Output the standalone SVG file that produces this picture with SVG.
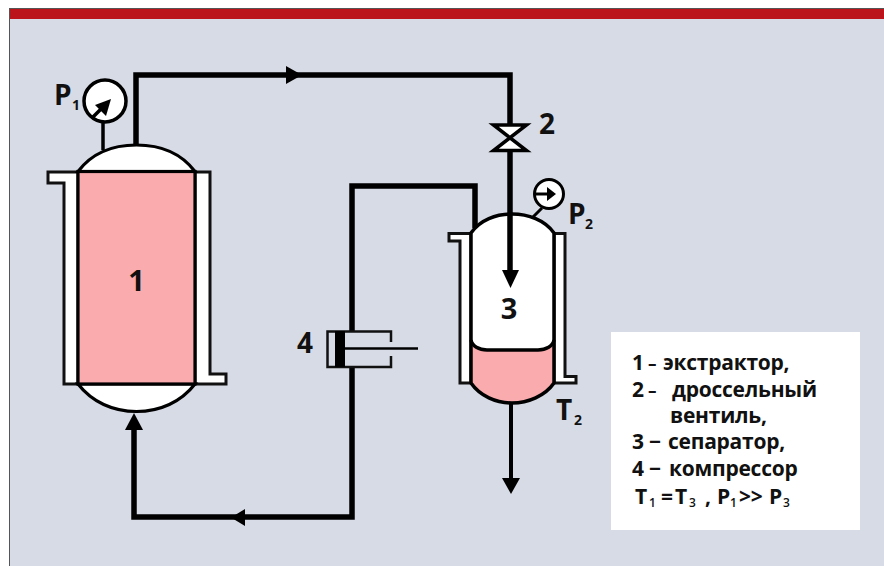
<svg xmlns="http://www.w3.org/2000/svg" width="884" height="566" viewBox="0 0 884 566">
<style>
text{font-family:"Open Sans","Noto Sans","Liberation Sans",sans-serif;font-weight:700;fill:#111}
.big{font-size:29px}
.lab{font-size:28px}
.sub{font-size:14px}
.leg{font-size:21px;letter-spacing:-.25px}
.legs{font-size:12px;font-weight:600}
.d{font-size:17px}
.v{stroke:#000;stroke-width:3.2;stroke-linejoin:miter}
.j{fill:#fff;stroke:#111;stroke-width:3}
.p{fill:none;stroke:#000;stroke-width:5.5;stroke-linejoin:miter}
.t{fill:none;stroke:#000;stroke-width:3.5}
.a{fill:#000}
</style>
<rect width="884" height="566" fill="#fff"/>
<g id="panel">
<rect x="9.500" y="8.500" width="875" height="558" fill="#d7dbe5" stroke="#555" stroke-width="1"/>
<rect x="10" y="9" width="874" height="10" fill="#bb141a"/>
</g>
<g id="connectors">
<path class="p" d="M136 147V75H510V125"/>
<path class="p" d="M510 150V272"/>
<path class="p" d="M475 228V186H352V331"/>
<path class="p" d="M352 367V517H134V428"/>
<path class="t" style="stroke-width:4" d="M511 403V480"/>
<path class="a" d="M286 66L302 75L286 84Z"/>
<path class="a" d="M502 478H520L511 494Z"/>
<path class="a" d="M245 509V526L231 517.500Z"/>
<path class="a" d="M125 430H143L134 413Z"/>
</g>
<g id="node-1">
<path class="j" d="M48 172H78V384H64V183H48Z"/>
<path class="j" d="M195 172H210V374H226V384H195Z"/>
<path class="v" fill="#fff" d="M78 171.500C92 153 113 145 136.500 145C160 145 181 153 195 171.500Z"/>
<path class="v" fill="#fff" d="M78 384C92 402 113 411.500 136.500 411.500C160 411.500 181 402 195 384Z"/>
<rect class="v" x="78" y="171.500" width="117" height="212.500" fill="#f9abae"/>
<text class="big" x="136.500" y="291" text-anchor="middle">1</text>
</g>
<g id="gauge-p1">
<path class="t" d="M103 122V150"/>
<circle cx="105" cy="101" r="21" fill="#fff" stroke="#000" stroke-width="3.500"/>
<path class="t" d="M93 117L104 106"/>
<path class="a" d="M111 99L106 116L95 105Z"/>
<text class="lab" x="54" y="105">P</text><text class="sub" x="72" y="110">1</text>
</g>
<g id="node-2">
<path fill="#fff" stroke="#000" stroke-width="3.500" d="M493.500 125H526.500L493.500 150.500H526.500Z"/>
<text class="lab" x="539" y="134">2</text>
</g>
<g id="gauge-p2">
<path class="t" d="M542 208L533 217" style="stroke-width:3"/>
<circle cx="549" cy="194" r="14.500" fill="#fff" stroke="#000" stroke-width="3"/>
<path class="t" d="M535 194H549" style="stroke-width:3"/>
<path class="a" d="M547 187L556 194L547 201Z"/>
<text class="lab" x="568" y="224">P</text><text class="sub" x="585" y="229">2</text>
</g>
<g id="node-3">
<path class="j" d="M449 233.500H471V383H460V241H449Z"/>
<path class="j" d="M554 233.500H565V376.500H576V383H554Z"/>
<path d="M471 383V233C480 220 496 214 512 214C528 214 545 220 554 233V383C545 396 528 403 512 403C496 403 480 396 471 383Z" fill="#fff"/>
<path d="M471 340C472 346 479 350 487 350H538C546 350 553 346 554 340V383C545 396 528 403 512 403C496 403 480 396 471 383Z" fill="#f9abae"/>
<path class="t" d="M471 383V233C480 220 496 214 512 214C528 214 545 220 554 233V383C545 396 528 403 512 403C496 403 480 396 471 383Z"/>
<path class="t" d="M471 340C472 346 479 350 487 350H538C546 350 553 346 554 340"/>
<path class="p" d="M510 214V272"/>
<path class="a" d="M502 270H519L510.500 288Z"/>
<text class="big" x="509" y="319" text-anchor="middle">3</text>
<text class="lab" x="556" y="420">T</text><text class="sub" x="574" y="425">2</text>
</g>
<g id="node-4">
<path fill="none" stroke="#111" stroke-width="2.500" d="M391 342V331.500H327.500V367H391V356"/>
<rect x="335" y="331" width="10" height="36" fill="#000"/>
<path d="M345 348.500H418" stroke="#000" stroke-width="2.500"/>
<text class="lab" x="297" y="353">4</text>
</g>
<g id="legend">
<rect x="611" y="332" width="249" height="198" fill="#fff"/>
<text class="leg" x="632" y="370">1 <tspan class="d" x="648">–</tspan><tspan x="663">экстрактор,</tspan></text>
<text class="leg" x="632" y="397">2 <tspan class="d" x="648">–</tspan><tspan x="672">дроссельный</tspan></text>
<text class="leg" x="670" y="423">вентиль,</text>
<text class="leg" x="632" y="449">3 − <tspan x="668">сепаратор,</tspan></text>
<text class="leg" x="632" y="476">4 − <tspan x="669">компрессор</tspan></text>
<text class="leg" x="635" y="504">T<tspan class="legs" x="649" y="507">1</tspan><tspan x="661" y="504">=</tspan><tspan x="675" y="504">T</tspan><tspan class="legs" x="689" y="507">3</tspan><tspan x="705" y="504">,</tspan><tspan x="717" y="504">P</tspan><tspan class="legs" x="730" y="507">1</tspan><tspan x="739" y="504">&gt;&gt;</tspan><tspan x="769" y="504">P</tspan><tspan class="legs" x="783" y="507">3</tspan></text>
</g>
</svg>
